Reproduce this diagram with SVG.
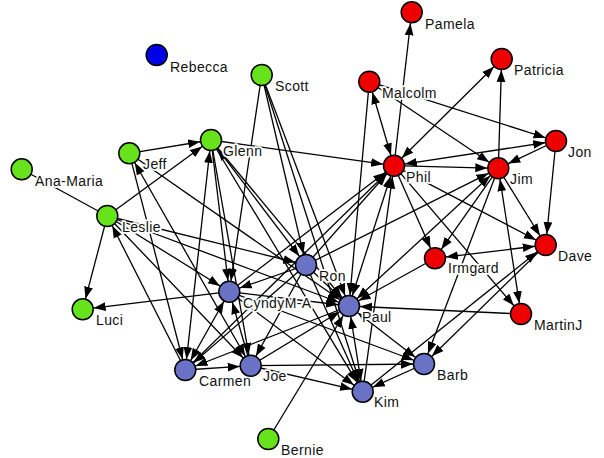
<svg xmlns="http://www.w3.org/2000/svg" width="604" height="458" viewBox="0 0 604 458">
<defs>
<marker id="a" viewBox="0 0 12 10" markerUnits="userSpaceOnUse" markerWidth="12" markerHeight="10" refX="23" refY="5" orient="auto-start-reverse">
<path d="M0,0.6 L12,5 L0,9.4 z" fill="#000"/>
</marker>
</defs>
<style>
line{stroke:#000;stroke-width:1.3}
.e{marker-end:url(#a)}
.b{marker-start:url(#a);marker-end:url(#a)}
circle{stroke:#000;stroke-width:1.5}
.g circle{fill:#66e31a}
.r circle{fill:#ee0000}
.p circle{fill:#6a72c6}
.k circle{fill:#0000e6}
text{font-family:"Liberation Sans",Arial,sans-serif;font-size:14px;letter-spacing:0.4px;fill:#111;stroke:#fff;stroke-width:3.5px;stroke-linejoin:round;paint-order:stroke}
</style>
<rect width="604" height="458" fill="#fff"/>
<g id="connectors">
<line class="e" x1="394" y1="165.7" x2="411.7" y2="12.3"/>
<line class="b" x1="369.3" y1="81.7" x2="394" y2="165.7"/>
<line class="e" x1="369.3" y1="81.7" x2="498.3" y2="168.3"/>
<line class="e" x1="369.3" y1="81.7" x2="556" y2="141"/>
<line class="e" x1="498.3" y1="168.3" x2="501.7" y2="59"/>
<line class="b" x1="394" y1="165.7" x2="501.7" y2="59"/>
<line class="b" x1="556" y1="141" x2="394" y2="165.7"/>
<line class="e" x1="556" y1="141" x2="498.3" y2="168.3"/>
<line class="e" x1="394" y1="165.7" x2="498.3" y2="168.3"/>
<line class="e" x1="556" y1="141" x2="545.7" y2="245"/>
<line class="e" x1="498.3" y1="168.3" x2="545.7" y2="245"/>
<line class="e" x1="394" y1="165.7" x2="545.7" y2="245"/>
<line class="e" x1="394" y1="165.7" x2="435" y2="258.3"/>
<line class="e" x1="498.3" y1="168.3" x2="435" y2="258.3"/>
<line class="b" x1="435" y1="258.3" x2="545.7" y2="245"/>
<line class="b" x1="498.3" y1="168.3" x2="521" y2="314"/>
<line class="e" x1="394" y1="165.7" x2="521" y2="314"/>
<line class="e" x1="435" y1="258.3" x2="349" y2="306"/>
<line class="e" x1="498.3" y1="168.3" x2="424" y2="364"/>
<line class="e" x1="521" y1="314" x2="349" y2="306"/>
<line class="e" x1="362.7" y1="391.7" x2="545.7" y2="245"/>
<line class="e" x1="545.7" y1="245" x2="424" y2="364"/>
<line class="e" x1="369.3" y1="81.7" x2="349" y2="306"/>
<line class="b" x1="349" y1="306" x2="394" y2="165.7"/>
<line class="e" x1="306" y1="265" x2="394" y2="165.7"/>
<line class="e" x1="229.3" y1="291.7" x2="394" y2="165.7"/>
<line class="e" x1="362.7" y1="391.7" x2="394" y2="165.7"/>
<line class="e" x1="211" y1="140" x2="394" y2="165.7"/>
<line class="b" x1="498.3" y1="168.3" x2="349" y2="306"/>
<line class="e" x1="306" y1="265" x2="498.3" y2="168.3"/>
<line class="e" x1="185.3" y1="370" x2="394" y2="165.7"/>
<line class="e" x1="261.7" y1="75" x2="229.3" y2="291.7"/>
<line class="e" x1="261.7" y1="75" x2="306" y2="265"/>
<line class="e" x1="261.7" y1="75" x2="349" y2="306"/>
<line class="e" x1="261.7" y1="75" x2="362.7" y2="391.7"/>
<line class="e" x1="129.3" y1="153.3" x2="211" y2="140"/>
<line class="e" x1="107.3" y1="216" x2="211" y2="140"/>
<line x1="21.7" y1="169.3" x2="107.3" y2="216"/>
<line class="e" x1="107.3" y1="216" x2="82.7" y2="309.3"/>
<line class="e" x1="229.3" y1="291.7" x2="82.7" y2="309.3"/>
<line class="e" x1="185.3" y1="370" x2="107.3" y2="216"/>
<line class="e" x1="107.3" y1="216" x2="229.3" y2="291.7"/>
<line class="e" x1="107.3" y1="216" x2="306" y2="265"/>
<line class="e" x1="107.3" y1="216" x2="349" y2="306"/>
<line class="e" x1="107.3" y1="216" x2="250.7" y2="365.7"/>
<line class="b" x1="129.3" y1="153.3" x2="250.7" y2="365.7"/>
<line class="e" x1="129.3" y1="153.3" x2="185.3" y2="370"/>
<line class="e" x1="129.3" y1="153.3" x2="349" y2="306"/>
<line class="b" x1="211" y1="140" x2="306" y2="265"/>
<line class="b" x1="211" y1="140" x2="185.3" y2="370"/>
<line class="e" x1="211" y1="140" x2="229.3" y2="291.7"/>
<line class="e" x1="211" y1="140" x2="250.7" y2="365.7"/>
<line class="e" x1="211" y1="140" x2="362.7" y2="391.7"/>
<line class="e" x1="211" y1="140" x2="349" y2="306"/>
<line class="e" x1="306" y1="265" x2="349" y2="306"/>
<line class="e" x1="306" y1="265" x2="229.3" y2="291.7"/>
<line class="e" x1="306" y1="265" x2="185.3" y2="370"/>
<line class="e" x1="306" y1="265" x2="250.7" y2="365.7"/>
<line class="e" x1="306" y1="265" x2="362.7" y2="391.7"/>
<line class="e" x1="229.3" y1="291.7" x2="349" y2="306"/>
<line class="e" x1="229.3" y1="291.7" x2="362.7" y2="391.7"/>
<line class="e" x1="229.3" y1="291.7" x2="424" y2="364"/>
<line class="b" x1="229.3" y1="291.7" x2="185.3" y2="370"/>
<line class="e" x1="250.7" y1="365.7" x2="229.3" y2="291.7"/>
<line class="e" x1="185.3" y1="370" x2="250.7" y2="365.7"/>
<line class="e" x1="250.7" y1="365.7" x2="424" y2="364"/>
<line class="e" x1="250.7" y1="365.7" x2="362.7" y2="391.7"/>
<line class="e" x1="349" y1="306" x2="185.3" y2="370"/>
<line class="e" x1="250.7" y1="365.7" x2="349" y2="306"/>
<line class="b" x1="349" y1="306" x2="362.7" y2="391.7"/>
<line class="b" x1="349" y1="306" x2="424" y2="364"/>
<line class="e" x1="424" y1="364" x2="362.7" y2="391.7"/>
<line class="e" x1="268.3" y1="439" x2="349" y2="306"/>
</g>
<g id="nodes">
<g id="node-rebecca" class="k"><circle cx="156.7" cy="55" r="10.5"/><text x="170" y="72">Rebecca</text></g>
<g id="node-scott" class="g"><circle cx="261.7" cy="75" r="10.5"/><text x="275" y="91">Scott</text></g>
<g id="node-pamela" class="r"><circle cx="411.7" cy="12.3" r="10.5"/><text x="425" y="29">Pamela</text></g>
<g id="node-patricia" class="r"><circle cx="501.7" cy="59" r="10.5"/><text x="514" y="75">Patricia</text></g>
<g id="node-malcolm" class="r"><circle cx="369.3" cy="81.7" r="10.5"/><text x="382" y="98">Malcolm</text></g>
<g id="node-jon" class="r"><circle cx="556" cy="141" r="10.5"/><text x="568" y="157">Jon</text></g>
<g id="node-phil" class="r"><circle cx="394" cy="165.7" r="10.5"/><text x="406" y="182">Phil</text></g>
<g id="node-jim" class="r"><circle cx="498.3" cy="168.3" r="10.5"/><text x="510" y="184">Jim</text></g>
<g id="node-glenn" class="g"><circle cx="211" cy="140" r="10.5"/><text x="223" y="156">Glenn</text></g>
<g id="node-jeff" class="g"><circle cx="129.3" cy="153.3" r="10.5"/><text x="143" y="169">Jeff</text></g>
<g id="node-ana-maria" class="g"><circle cx="21.7" cy="169.3" r="10.5"/><text x="35" y="186">Ana-Maria</text></g>
<g id="node-leslie" class="g"><circle cx="107.3" cy="216" r="10.5"/><text x="122" y="232">Leslie</text></g>
<g id="node-luci" class="g"><circle cx="82.7" cy="309.3" r="10.5"/><text x="96" y="325">Luci</text></g>
<g id="node-cyndy" class="p"><circle cx="229.3" cy="291.7" r="10.5"/><text x="243" y="308">CyndyM-A</text></g>
<g id="node-ron" class="p"><circle cx="306" cy="265" r="10.5"/><text x="319" y="281">Ron</text></g>
<g id="node-paul" class="p"><circle cx="349" cy="306" r="10.5"/><text x="362" y="322">Paul</text></g>
<g id="node-irmgard" class="r"><circle cx="435" cy="258.3" r="10.5"/><text x="448" y="273">Irmgard</text></g>
<g id="node-dave" class="r"><circle cx="545.7" cy="245" r="10.5"/><text x="558" y="261">Dave</text></g>
<g id="node-martinj" class="r"><circle cx="521" cy="314" r="10.5"/><text x="534" y="330">MartinJ</text></g>
<g id="node-carmen" class="p"><circle cx="185.3" cy="370" r="10.5"/><text x="199" y="386">Carmen</text></g>
<g id="node-joe" class="p"><circle cx="250.7" cy="365.7" r="10.5"/><text x="263" y="381">Joe</text></g>
<g id="node-barb" class="p"><circle cx="424" cy="364" r="10.5"/><text x="437" y="380">Barb</text></g>
<g id="node-kim" class="p"><circle cx="362.7" cy="391.7" r="10.5"/><text x="374" y="407">Kim</text></g>
<g id="node-bernie" class="g"><circle cx="268.3" cy="439" r="10.5"/><text x="281" y="455">Bernie</text></g>
</g>
</svg>
